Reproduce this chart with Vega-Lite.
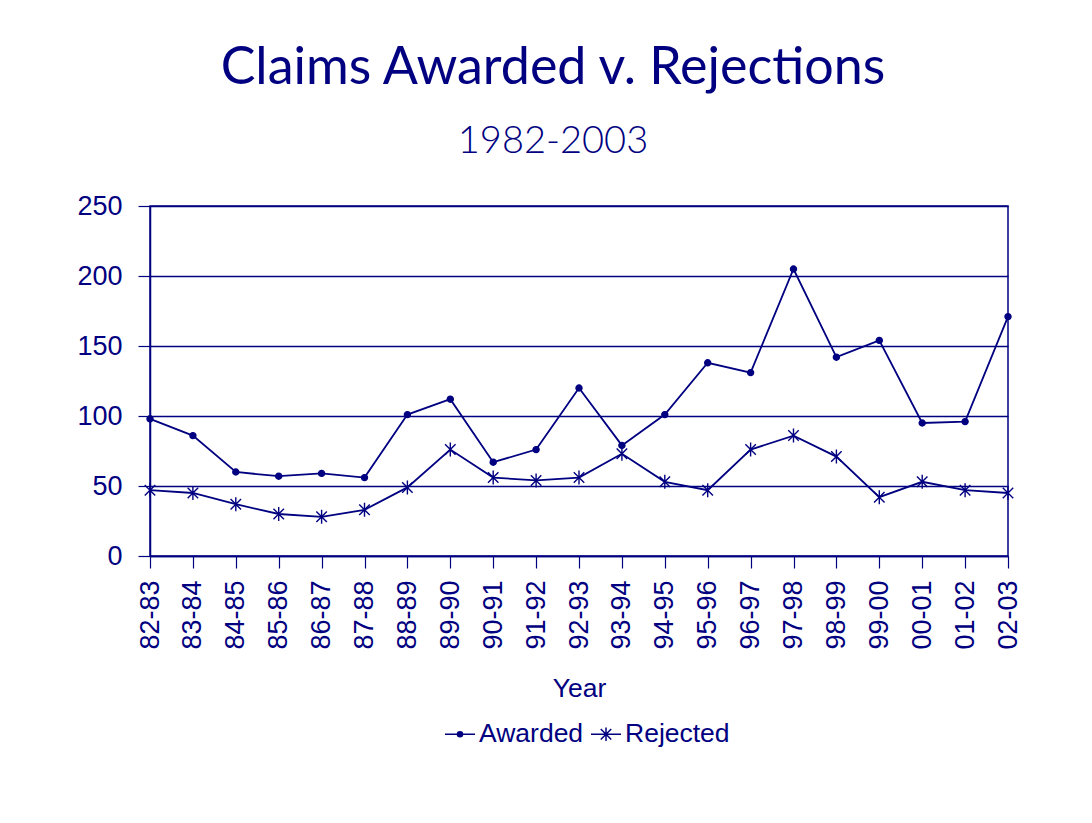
{
  "$schema": "https://vega.github.io/schema/vega-lite/v6.json",
  "width": 858,
  "height": 350,
  "autosize": "none",
  "padding": {"left": 150, "top": 206, "right": 84, "bottom": 267},
  "background": "white",
  "title": {
    "text": "Claims Awarded v. Rejections",
    "subtitle": "1982-2003",
    "anchor": "middle",
    "frame": "group",
    "dx": -26,
    "offset": 30,
    "font": "Lato",
    "fontSize": 52,
    "fontWeight": "normal",
    "color": "#000080",
    "subtitleFont": "Lato",
    "subtitleFontWeight": 300,
    "subtitleFontSize": 38,
    "subtitleColor": "#000080",
    "subtitlePadding": 28
  },
  "config": {
    "font": "Liberation Sans",
    "view": {"stroke": "#000080", "strokeWidth": 1.5},
    "axis": {
      "labelColor": "#000080",
      "titleColor": "#000080",
      "domainColor": "#000080",
      "tickColor": "#000080",
      "gridColor": "#000080",
      "gridOpacity": 1,
      "gridWidth": 1.5,
      "domainWidth": 1.5,
      "tickWidth": 1.2,
      "tickSize": 12,
      "labelFont": "Liberation Sans",
      "labelFontSize": 27,
      "titleFont": "Liberation Sans",
      "titleFontSize": 26.5,
      "titleFontWeight": "normal"
    },
    "legend": {
      "labelColor": "#000080",
      "labelFont": "Liberation Sans",
      "labelFontSize": 26.5
    }
  },
  "data": {
    "values": [
      {"year": "82-83", "series": "Awarded", "value": 98},
      {"year": "83-84", "series": "Awarded", "value": 86},
      {"year": "84-85", "series": "Awarded", "value": 60},
      {"year": "85-86", "series": "Awarded", "value": 57},
      {"year": "86-87", "series": "Awarded", "value": 59},
      {"year": "87-88", "series": "Awarded", "value": 56},
      {"year": "88-89", "series": "Awarded", "value": 101},
      {"year": "89-90", "series": "Awarded", "value": 112},
      {"year": "90-91", "series": "Awarded", "value": 67},
      {"year": "91-92", "series": "Awarded", "value": 76},
      {"year": "92-93", "series": "Awarded", "value": 120},
      {"year": "93-94", "series": "Awarded", "value": 79},
      {"year": "94-95", "series": "Awarded", "value": 101},
      {"year": "95-96", "series": "Awarded", "value": 138},
      {"year": "96-97", "series": "Awarded", "value": 131},
      {"year": "97-98", "series": "Awarded", "value": 205},
      {"year": "98-99", "series": "Awarded", "value": 142},
      {"year": "99-00", "series": "Awarded", "value": 154},
      {"year": "00-01", "series": "Awarded", "value": 95},
      {"year": "01-02", "series": "Awarded", "value": 96},
      {"year": "02-03", "series": "Awarded", "value": 171},
      {"year": "82-83", "series": "Rejected", "value": 47},
      {"year": "83-84", "series": "Rejected", "value": 45},
      {"year": "84-85", "series": "Rejected", "value": 37},
      {"year": "85-86", "series": "Rejected", "value": 30},
      {"year": "86-87", "series": "Rejected", "value": 28},
      {"year": "87-88", "series": "Rejected", "value": 33},
      {"year": "88-89", "series": "Rejected", "value": 49},
      {"year": "89-90", "series": "Rejected", "value": 76},
      {"year": "90-91", "series": "Rejected", "value": 56},
      {"year": "91-92", "series": "Rejected", "value": 54},
      {"year": "92-93", "series": "Rejected", "value": 56},
      {"year": "93-94", "series": "Rejected", "value": 73},
      {"year": "94-95", "series": "Rejected", "value": 53},
      {"year": "95-96", "series": "Rejected", "value": 47},
      {"year": "96-97", "series": "Rejected", "value": 76},
      {"year": "97-98", "series": "Rejected", "value": 86},
      {"year": "98-99", "series": "Rejected", "value": 71},
      {"year": "99-00", "series": "Rejected", "value": 42},
      {"year": "00-01", "series": "Rejected", "value": 53},
      {"year": "01-02", "series": "Rejected", "value": 47},
      {"year": "02-03", "series": "Rejected", "value": 45}
    ]
  },
  "encoding": {
    "x": {
      "field": "year",
      "type": "ordinal",
      "sort": null,
      "scale": {"type": "point", "padding": 0},
      "axis": {"title": "Year", "labelAngle": -90, "labelPadding": 12, "titlePadding": 26, "grid": false}
    },
    "y": {
      "field": "value",
      "type": "quantitative",
      "scale": {"domain": [0, 250], "nice": false},
      "axis": {"title": null, "values": [0, 50, 100, 150, 200, 250], "labelPadding": 16, "grid": true}
    }
  },
  "layer": [
    {
      "mark": {"type": "line", "strokeWidth": 1.8},
      "encoding": {
        "color": {
          "field": "series",
          "type": "nominal",
          "scale": {"domain": ["Awarded", "Rejected"], "range": ["#000080", "#000080"]},
          "legend": null
        }
      }
    },
    {
      "mark": {"type": "point", "filled": true, "fill": "#000080", "stroke": "#000080", "strokeWidth": 1.4, "opacity": 1, "size": 196},
      "encoding": {
        "shape": {
          "field": "series",
          "type": "nominal",
          "scale": {
            "domain": ["Awarded", "Rejected"],
            "range": [
              "M-0.43,0A0.43,0.43 0 1,0 0.43,0A0.43,0.43 0 1,0 -0.43,0Z",
              "M-0.75,-0.75L0.75,0.75M0.75,-0.75L-0.75,0.75M0,-1L0,1"
            ]
          },
          "legend": null
        }
      }
    },
    {
      "mark": {"type": "point", "filled": true, "fill": "#000080", "stroke": "#000080", "strokeWidth": 1.5, "opacity": 0, "size": 900},
      "encoding": {
        "shape": {
          "field": "series",
          "type": "nominal",
          "scale": {
            "domain": ["Awarded", "Rejected"],
            "range": [
              "M-1,0L1,0M-0.17,0A0.17,0.17 0 1,0 0.17,0A0.17,0.17 0 1,0 -0.17,0Z",
              "M-1,0L1,0M-0.35,-0.35L0.35,0.35M0.35,-0.35L-0.35,0.35M0,-0.45L0,0.45"
            ]
          },
          "legend": {
            "title": null,
            "orient": "none",
            "legendX": 294,
            "legendY": 512,
            "direction": "horizontal",
            "symbolSize": 900,
            "symbolOpacity": 1,
            "labelOffset": 3,
            "columnPadding": 4,
            "encode": {
              "symbols": {
                "update": {
                  "fill": {"value": "#000080"},
                  "stroke": {"value": "#000080"},
                  "strokeWidth": {"value": 1.5},
                  "opacity": {"value": 1}
                }
              }
            }
          }
        }
      }
    }
  ],
  "resolve": {"scale": {"shape": "independent"}, "legend": {"shape": "independent"}}
}
